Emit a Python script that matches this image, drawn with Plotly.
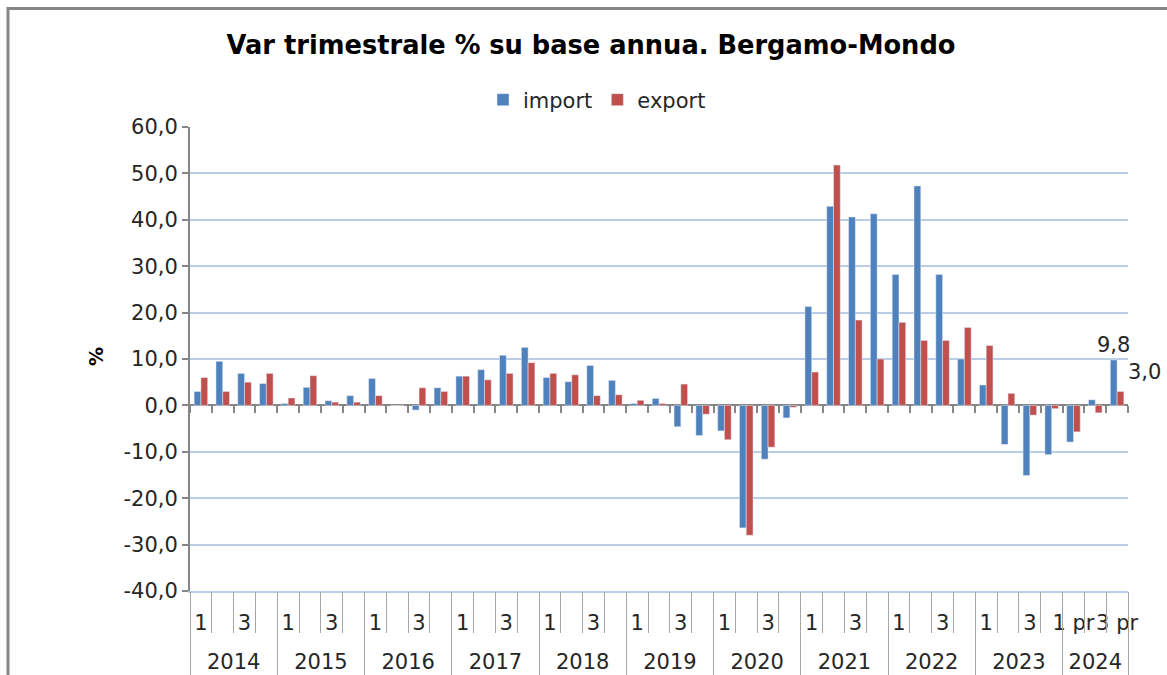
import plotly.graph_objects as go

years = ["2014", "2015", "2016", "2017", "2018", "2019", "2020", "2021", "2022", "2023", "2024"]
quarter_labels = ["1", "", "3", ""]
quarter_labels_2024 = ["1 pr", "", "3 pr"]

import_vals = [
    3.0, 9.5, 6.9, 4.7,        # 2014
    0.4, 3.9, 1.0, 2.1,        # 2015
    5.8, 0.0, -1.0, 3.8,       # 2016
    6.3, 7.7, 10.8, 12.5,      # 2017
    6.0, 5.1, 8.6, 5.4,        # 2018
    0.4, 1.5, -4.6, -6.5,      # 2019
    -5.5, -26.4, -11.6, -2.7,  # 2020
    21.3, 42.9, 40.6, 41.3,    # 2021
    28.2, 47.3, 28.2, 10.0,    # 2022
    4.4, -8.4, -15.1, -10.6,   # 2023
    -7.9, 1.2, 9.8,            # 2024
]
export_vals = [
    6.0, 3.0, 5.0, 6.9,
    1.6, 6.4, 0.7, 0.7,
    2.1, 0.0, 3.8, 3.0,
    6.3, 5.5, 6.9, 9.2,
    6.9, 6.6, 2.1, 2.3,
    1.1, 0.4, 4.6, -1.9,
    -7.4, -28.0, -9.0, -0.4,
    7.2, 51.8, 18.4, 10.0,
    17.9, 14.0, 14.0, 16.8,
    12.9, 2.6, -2.1, -0.7,
    -5.7, -1.6, 3.0,
]

y_tickvals = [-40, -30, -20, -10, 0, 10, 20, 30, 40, 50, 60]
y_ticktext = ["-40,0", "-30,0", "-20,0", "-10,0", "0,0", "10,0", "20,0", "30,0", "40,0", "50,0", "60,0"]
Y_RANGE = [-40, 60]

# category ids and label helpers derived from the arrays above
cat_ids, inner = [], []
year_centers, year_bounds = [], [-0.5]
for y in years:
    qs = quarter_labels_2024 if y == "2024" else quarter_labels
    start = len(cat_ids)
    for k, q in enumerate(qs):
        cat_ids.append(f"{y}-{k + 1}")
        inner.append(q)
    end = len(cat_ids) - 1
    year_centers.append((start + end) / 2)
    year_bounds.append(end + 0.5)
n = len(cat_ids)
quarter_bounds = [i + 0.5 for i in range(-1, n)]
X_RANGE = [-0.5, n - 0.5]

def fmt(v):
    return f"{v:.1f}".replace(".", ",")

BLUE = "#4F81BD"
RED = "#C0504D"
GRAY = "#868686"
DIV = "#A6A6A6"
GRID = "#B9CDE5"
FONT = "DejaVu Sans"
TXT = "#262626"
FS = 21

imp_text = [""] * (n - 1) + [fmt(import_vals[-1])]

fig = go.Figure()
fig.add_trace(go.Bar(
    x=cat_ids, y=import_vals, name="import", marker_color=BLUE,
    text=imp_text, textposition="outside", cliponaxis=False, constraintext="none",
    textfont=dict(family=FONT, size=FS, color=TXT),
))
fig.add_trace(go.Bar(
    x=cat_ids, y=export_vals, name="export", marker_color=RED,
))

# empty helper traces so that the decorative overlay axes get drawn
for ax_id, xs in [("x2", year_centers), ("x3", quarter_bounds), ("x4", year_bounds), ("x5", quarter_bounds)]:
    fig.add_trace(go.Scatter(x=xs, y=[None] * len(xs), xaxis=ax_id, yaxis="y", mode="lines",
                             showlegend=False, hoverinfo="skip"))

W, H = 1167, 675
L, R, T, B = 190, 39, 127, 84
pw, ph = W - L - R, H - T - B

fig.add_annotation(
    x=cat_ids[-1], y=export_vals[-1], xref="x", yref="y", text=fmt(export_vals[-1]),
    showarrow=False, xanchor="left", yanchor="middle", xshift=9, yshift=19,
    font=dict(family=FONT, size=FS, color=TXT),
)
fig.add_annotation(
    x=(96 - L) / pw, y=(H - B - 357) / ph, xref="paper", yref="paper", text="<b>%</b>",
    showarrow=False, textangle=-90, xanchor="center", yanchor="middle",
    font=dict(family=FONT, size=19, color="#000"),
)
# outer chart border
fig.add_shape(type="rect", xref="paper", yref="paper",
              x0=(8 - L) / pw, x1=(W + 20 - L) / pw,
              y0=-(B + 20) / ph, y1=(H - 8.5 - B) / ph,
              line=dict(color=GRAY, width=3), fillcolor="rgba(0,0,0,0)", layer="below")

zero_pos = (0 - Y_RANGE[0]) / (Y_RANGE[1] - Y_RANGE[0])

def overlay(**kw):
    base = dict(type="linear", overlaying="x", anchor="y", side="bottom", range=X_RANGE,
                autorange=False, showgrid=False, zeroline=False, showline=False,
                showticklabels=False)
    base.update(kw)
    return base

fig.update_layout(
    width=W, height=H,
    margin=dict(l=L, r=R, t=T, b=B, autoexpand=False),
    paper_bgcolor="white", plot_bgcolor="white",
    barmode="group", bargap=0.38, bargroupgap=0,
    font=dict(family=FONT, size=FS, color=TXT),
    title=dict(text="<b>Var trimestrale % su base annua. Bergamo-Mondo</b>",
               x=591 / W, xref="container", xanchor="center",
               y=1 - 45 / H, yref="container", yanchor="middle",
               font=dict(family=FONT, size=25.7, color="#000")),
    legend=dict(orientation="h", x=(597 - L) / pw, xanchor="center",
                y=(H - B - 100) / ph, yanchor="middle",
                font=dict(family=FONT, size=FS, color=TXT),
                itemwidth=30, traceorder="normal"),
    # quarter labels (axis line doubles as the light bottom gridline)
    xaxis=dict(type="category", range=X_RANGE, tickmode="array", tickvals=cat_ids, ticktext=inner,
               showgrid=False, showline=True, linecolor=GRID, linewidth=2, zeroline=False,
               ticks="outside", ticklen=12, tickcolor="rgba(0,0,0,0)", tickangle=0,
               tickfont=dict(family=FONT, size=FS, color=TXT)),
    # year labels
    xaxis2=overlay(tickmode="array", tickvals=year_centers, ticktext=years, showticklabels=True,
                   ticks="outside", ticklen=52, tickcolor="rgba(0,0,0,0)", tickangle=0,
                   tickfont=dict(family=FONT, size=FS, color=TXT)),
    # quarter separators
    xaxis3=overlay(tickmode="array", tickvals=quarter_bounds, ticks="outside", ticklen=41,
                   tickcolor=DIV, tickwidth=1),
    # year dividers
    xaxis4=overlay(tickmode="array", tickvals=year_bounds, ticks="outside", ticklen=90,
                   tickcolor=DIV, tickwidth=1),
    # ticks along the zero line
    xaxis5=overlay(anchor="free", position=zero_pos, tickmode="array", tickvals=quarter_bounds,
                   ticks="outside", ticklen=7, tickcolor=GRAY, tickwidth=2),
    yaxis=dict(range=Y_RANGE, tickvals=y_tickvals, ticktext=y_ticktext,
               showline=True, linecolor=GRAY, linewidth=2,
               ticks="outside", ticklen=6, tickcolor=GRAY, tickwidth=2,
               showgrid=True, gridcolor=GRID, gridwidth=2,
               zeroline=True, zerolinecolor=GRAY, zerolinewidth=2,
               tickfont=dict(family=FONT, size=FS, color=TXT)),
)

fig.write_html("out.html", config={"displayModeBar": False},
               post_script="document.body.style.margin='0';document.body.style.overflow='hidden';")
